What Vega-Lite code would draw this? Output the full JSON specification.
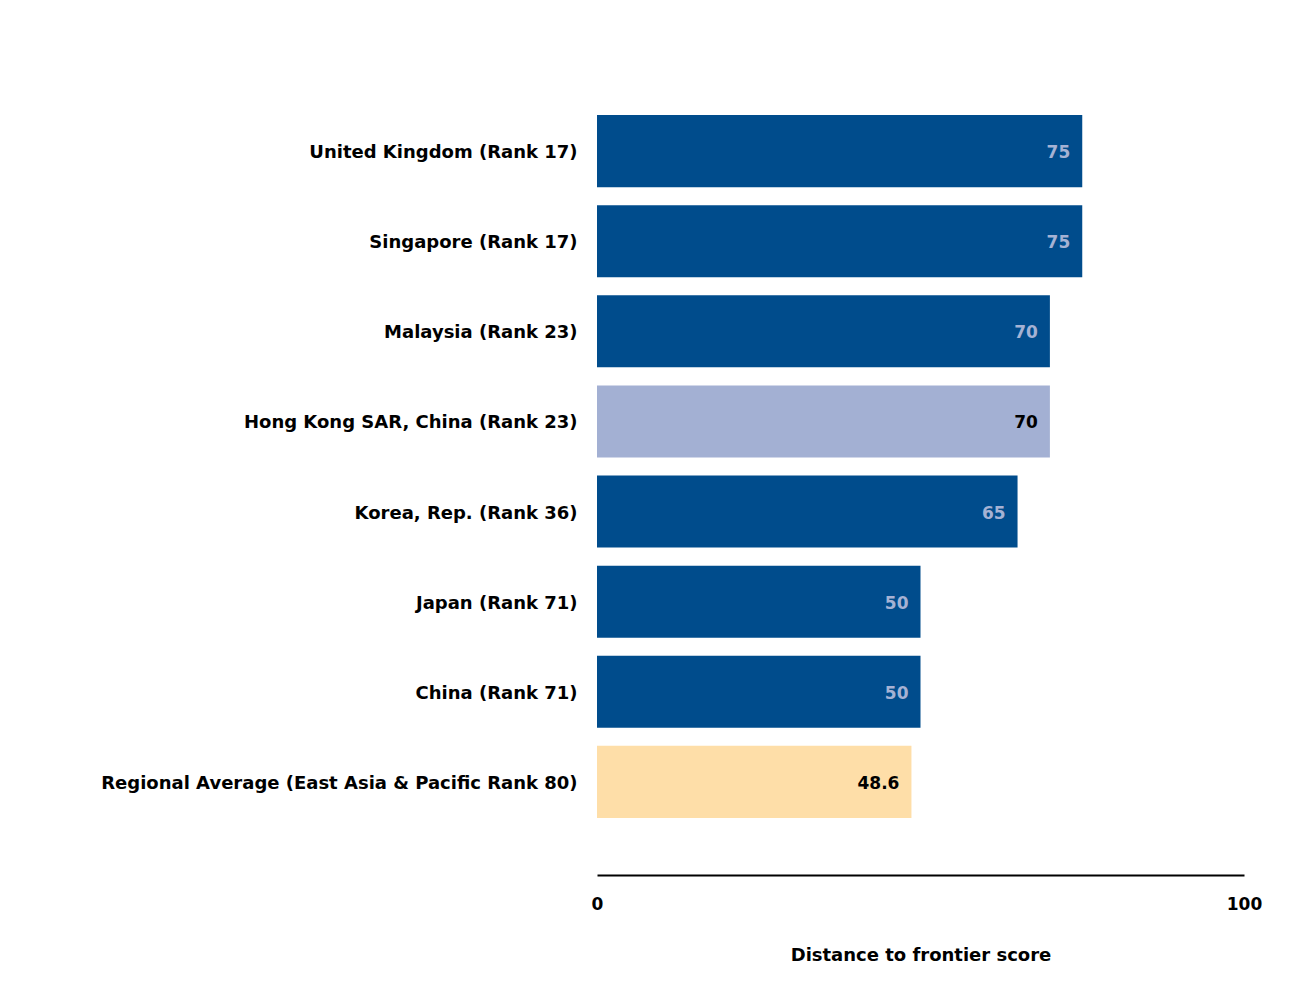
{
  "$schema": "https://vega.github.io/schema/vega-lite/v6.json",
  "width": 647,
  "height": 817,
  "autosize": {"type": "none"},
  "padding": {"left": 597, "top": 58, "right": 54, "bottom": 127},
  "background": "white",
  "config": {
    "view": {"stroke": null},
    "font": "DejaVu Sans"
  },
  "data": {
    "values": [
      {"economy": "United Kingdom (Rank 17)", "score": 75, "group": "economy"},
      {"economy": "Singapore (Rank 17)", "score": 75, "group": "economy"},
      {"economy": "Malaysia (Rank 23)", "score": 70, "group": "economy"},
      {"economy": "Hong Kong SAR, China (Rank 23)", "score": 70, "group": "highlight"},
      {"economy": "Korea, Rep. (Rank 36)", "score": 65, "group": "economy"},
      {"economy": "Japan (Rank 71)", "score": 50, "group": "economy"},
      {"economy": "China (Rank 71)", "score": 50, "group": "economy"},
      {"economy": "Regional Average (East Asia & Pacific Rank 80)", "score": 48.6, "group": "regional"}
    ]
  },
  "encoding": {
    "y": {
      "field": "economy",
      "type": "nominal",
      "sort": null,
      "scale": {"paddingInner": 0.2, "paddingOuter": 0.633},
      "axis": {
        "title": null,
        "domain": false,
        "ticks": false,
        "labelPadding": 20,
        "labelOffset": 2,
        "labelFont": "DejaVu Sans",
        "labelFontSize": 18,
        "labelFontWeight": "bold",
        "labelColor": "#000000",
        "labelLimit": 600
      }
    },
    "x": {
      "field": "score",
      "type": "quantitative",
      "scale": {"domain": [0, 100], "nice": false, "zero": true},
      "axis": {
        "title": "Distance to frontier score",
        "values": [0, 100],
        "grid": false,
        "ticks": false,
        "domainColor": "#000000",
        "domainWidth": 2,
        "labelPadding": 21,
        "labelFont": "DejaVu Sans",
        "labelFontSize": 17,
        "labelFontWeight": "bold",
        "labelColor": "#000000",
        "labelFlush": false,
        "titleFont": "DejaVu Sans",
        "titleFontSize": 18,
        "titleFontWeight": "bold",
        "titleColor": "#000000",
        "titlePadding": 34
      }
    }
  },
  "layer": [
    {
      "mark": {"type": "bar"},
      "encoding": {
        "color": {
          "field": "group",
          "type": "nominal",
          "scale": {"domain": ["economy", "highlight", "regional"], "range": ["#004c8c", "#a3b0d3", "#fedea8"]},
          "legend": null
        }
      }
    },
    {
      "mark": {"type": "text", "align": "right", "baseline": "middle", "dx": -12, "dy": 2, "fontSize": 17, "fontWeight": "bold"},
      "encoding": {
        "text": {"field": "score", "type": "quantitative", "format": "~g"},
        "color": {
          "field": "group",
          "type": "nominal",
          "scale": {"domain": ["economy", "highlight", "regional"], "range": ["#a5b2d4", "#000000", "#000000"]},
          "legend": null
        }
      }
    }
  ],
  "resolve": {"scale": {"color": "independent"}}
}
